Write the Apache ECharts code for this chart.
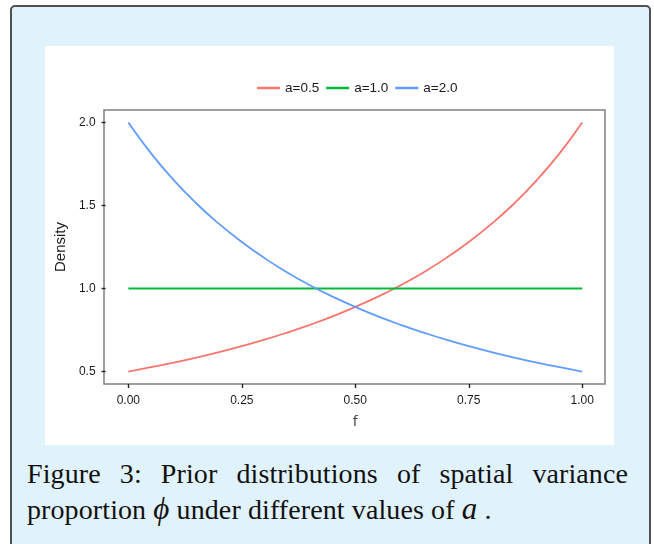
<!DOCTYPE html>
<html><head><meta charset="utf-8">
<script src="https://cdn.jsdelivr.net/npm/echarts@6/dist/echarts.min.js"></script>
<style>
html,body{margin:0;padding:0;background:#fff;}
#wrap{position:relative;width:654px;height:544px;overflow:hidden;background:#fff;}
#panel{position:absolute;left:10px;top:5px;width:641px;height:580px;background:#e0f2fc;border:2px solid #505050;border-radius:5px;box-sizing:border-box;}
#chart{position:absolute;left:45px;top:46px;width:569px;height:399px;background:#fff;}
#cap{position:absolute;left:27px;top:456px;width:601px;font-family:"Liberation Serif","Times New Roman",serif;font-size:28px;letter-spacing:0.1px;color:#111;line-height:35px;}
#cap .l1{text-align:justify;text-align-last:justify;white-space:nowrap;}
#cap i{font-size:31px;}
</style></head>
<body>
<div id="wrap">
<div id="panel"></div>
<div id="chart"></div>
<div id="cap">
<div class="l1">Figure 3: Prior distributions of spatial variance</div>
<div>proportion <i>ϕ</i> under different values of <i>a</i> .</div>
</div>
</div>
<script>
var phi = [0,0.05,0.1,0.15,0.2,0.25,0.3,0.35,0.4,0.45,0.5,0.55,0.6,0.65,0.7,0.75,0.8,0.85,0.9,0.95,1];
var densA05 = [0.500,0.526,0.554,0.584,0.617,0.653,0.692,0.735,0.781,0.832,0.889,0.951,1.020,1.097,1.183,1.280,1.389,1.512,1.653,1.814,2.000];
var densA10 = [1,1,1,1,1,1,1,1,1,1,1,1,1,1,1,1,1,1,1,1,1];
var densA20 = [2.000,1.814,1.653,1.512,1.389,1.280,1.183,1.097,1.020,0.951,0.889,0.832,0.781,0.735,0.692,0.653,0.617,0.584,0.554,0.526,0.500];
var seriesNames = ['a=0.5','a=1.0','a=2.0'];
var xMin = 0, xMax = 1, xStep = 0.25;
var yMin = 0.5, yMax = 2.0, yStep = 0.5;

var colors = ['#F8766D','#00BA38','#619CFF'];
var sets = [densA05, densA10, densA20];
var font = "'Liberation Sans',Arial,sans-serif";
var boxColor = '#7f7f7f';

var W = 569, H = 399;
var boxL = 59, boxR = 9, boxT = 64, boxB = 61;
var boxW = W - boxL - boxR, boxH = H - boxT - boxB;
var padX = boxW * 0.05 / 1.1;
var padY = boxH * 0.05 / 1.1;

var chart = echarts.init(document.getElementById('chart'), null, {renderer:'canvas'});
chart.setOption({
  animation:false,
  backgroundColor:'#ffffff',
  color: colors,
  legend:{
    data: seriesNames,
    left: 207, top: 30,
    icon: 'rect', itemWidth: 23, itemHeight: 2.5, itemGap: 7,
    textStyle:{fontFamily:font, fontSize:13.5, color:'#1a1a1a'}
  },
  grid:[
    {left:boxL, right:boxR, top:boxT, bottom:boxB, show:true, borderColor:boxColor, borderWidth:1.5, backgroundColor:'#fff'},
    {left:boxL+padX, right:boxR+padX, top:boxT+padY, bottom:boxB+padY}
  ],
  xAxis:[
    {gridIndex:0, type:'value', min:0, max:1, show:false},
    {
      gridIndex:1, type:'value', min:xMin, max:xMax, interval:xStep, offset:padY,
      name:'f', nameLocation:'middle', nameGap:31,
      nameTextStyle:{fontFamily:"'DejaVu Sans',sans-serif", fontSize:14, color:'#444'},
      axisLine:{show:true, onZero:false, lineStyle:{color:'rgba(0,0,0,0)', width:0}},
      splitLine:{show:false},
      axisTick:{show:true, inside:false, length:4, lineStyle:{color:'#222', width:1.4}},
      axisLabel:{margin:11, fontFamily:font, fontSize:12, color:'#1a1a1a',
        formatter:function(v){return v.toFixed(2);}}
    }
  ],
  yAxis:[
    {gridIndex:0, type:'value', min:0, max:1, show:false},
    {
      gridIndex:1, type:'value', min:yMin, max:yMax, interval:yStep, offset:padX,
      name:'Density', nameLocation:'middle', nameGap:34,
      nameTextStyle:{fontFamily:font, fontSize:15, color:'#1a1a1a'},
      axisLine:{show:true, onZero:false, lineStyle:{color:'rgba(0,0,0,0)', width:0}},
      splitLine:{show:false},
      axisTick:{show:true, inside:false, length:4, lineStyle:{color:'#222', width:1.4}},
      axisLabel:{margin:10, fontFamily:font, fontSize:12, color:'#1a1a1a',
        formatter:function(v){return v.toFixed(1);}}
    }
  ],
  series: seriesNames.map(function(n,i){
    return {
      name:n, type:'line', xAxisIndex:1, yAxisIndex:1, clip:false,
      showSymbol:false, symbol:'none', smooth:true,
      lineStyle:{width:1.8, color:colors[i]},
      data: phi.map(function(p,k){return [p, sets[i][k]];})
    };
  })
});
</script>
</body></html>
